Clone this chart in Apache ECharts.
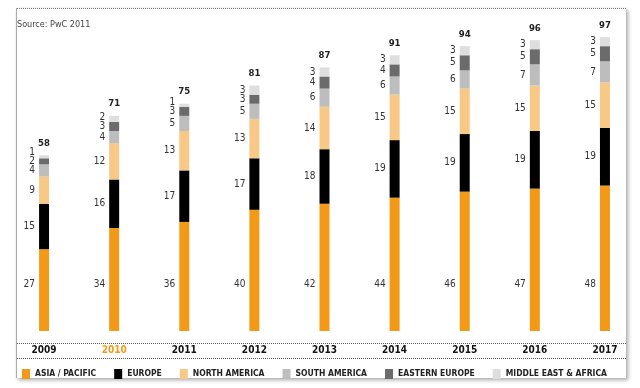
<!DOCTYPE html>
<html><head><meta charset="utf-8">
<script src="https://cdn.jsdelivr.net/npm/echarts@6/dist/echarts.min.js"></script>
<style>html,body{margin:0;padding:0;background:#fff}#c{width:640px;height:388px}</style>
</head><body><div id="c"></div>
<script>
var years = ['2009','2010','2011','2012','2013','2014','2015','2016','2017'];
var asiaPacific = [27,34,36,40,42,44,46,47,48];
var europe = [15,16,17,17,18,19,19,19,19];
var northAmerica = [9,12,13,13,14,15,15,15,15];
var southAmerica = [4,4,5,5,6,6,6,7,7];
var easternEurope = [2,3,3,3,4,4,5,5,5];
var middleEastAfrica = [1,2,1,3,3,3,3,3,3];
var totals = [58,71,75,81,87,91,94,96,97];

var FONT = '"Liberation Sans Narrow","DejaVu Sans Condensed","Liberation Sans",sans-serif';
var names = ['ASIA / PACIFIC','EUROPE','NORTH AMERICA','SOUTH AMERICA','EASTERN EUROPE','MIDDLE EAST & AFRICA'];
var dataSets = [asiaPacific, europe, northAmerica, southAmerica, easternEurope, middleEastAfrica];
var colors = ['#f29a17','#000000','#f8c886','#bdbdbd','#6b6b6b','#dedede'];
var legendColors = ['#f29a17','#000000','#f8c886','#a8a8a8','#6b6b6b','#cccccc'];
var PX_PER_UNIT = 303/100, MIN_GAP = 9;

var series = dataSets.map(function(d,i){
  var lab = {show:true, position:'left', distance:4, fontFamily:FONT, fontSize:10, color:'#333', align:'right', verticalAlign:'middle'};
  var s = {name:names[i], type:'bar', stack:'t', barWidth:10, data:d, itemStyle:{color:colors[i]}, label:lab};
  if(i===0){
    lab.position=[-4,'100%'];
    s.labelLayout = function(){ return {dy:-47}; };
  }
  if(i===5){
    s.labelLayout = function(p){
      var k=p.dataIndex;
      var dist=(middleEastAfrica[k]+easternEurope[k])/2*PX_PER_UNIT;
      return {dy: Math.min(0, dist-MIN_GAP)};
    };
  }
  return s;
});
series.push({name:'total', type:'bar', stack:'t', barWidth:10, data:totals.map(function(){return 0;}),
  label:{show:true, position:'top', distance:7, fontFamily:FONT, fontSize:9.5, fontWeight:'bold', color:'#222',
    formatter:function(p){return totals[p.dataIndex];}}});

var yearData = years.map(function(y){ return y==='2010' ? {value:y, textStyle:{color:'#f29a17'}} : y; });

var chart = echarts.init(document.getElementById('c'), null, {renderer:'canvas'});
chart.setOption({
  animation:false,
  backgroundColor:'#fff',
  color: legendColors,
  graphic:[
    {type:'rect', shape:{x:16,y:8,width:610,height:370}, style:{fill:'#fff', shadowBlur:4, shadowOffsetX:2, shadowOffsetY:2, shadowColor:'rgba(0,0,0,0.35)'}, z:-10},
    {type:'line', shape:{x1:16.5,y1:8,x2:16.5,y2:378}, style:{stroke:'#aaa', lineWidth:1}, z:-5},
    {type:'line', shape:{x1:17,y1:8.5,x2:626,y2:8.5}, style:{stroke:'#777', lineWidth:1, lineDash:[1,1]}},
    {type:'line', shape:{x1:17,y1:343.5,x2:626,y2:343.5}, style:{stroke:'#555', lineWidth:1, lineDash:[1,1]}},
    {type:'line', shape:{x1:17,y1:358.5,x2:626,y2:358.5}, style:{stroke:'#555', lineWidth:1, lineDash:[1,1]}},
    {type:'text', left:17, top:20, style:{text:'Source: PwC 2011', font:'9px '+FONT, fill:'#444'}}
  ],
  legend:{data:names, left:17, top:364, width:620, itemWidth:8, itemHeight:10, itemGap:18, icon:'rect',
    textStyle:{fontFamily:FONT, fontSize:8.5, fontWeight:'bold', color:'#222'}},
  grid:{left:9, width:640, top:28, height:303, containLabel:false},
  xAxis:{type:'category', data:yearData, axisLine:{show:false}, axisTick:{show:false},
    axisLabel:{margin:14, fontFamily:FONT, fontSize:10, fontWeight:'bold', color:'#111'}},
  yAxis:{type:'value', min:0, max:100, show:false, splitLine:{show:false}},
  series:series
});
</script></body></html>
